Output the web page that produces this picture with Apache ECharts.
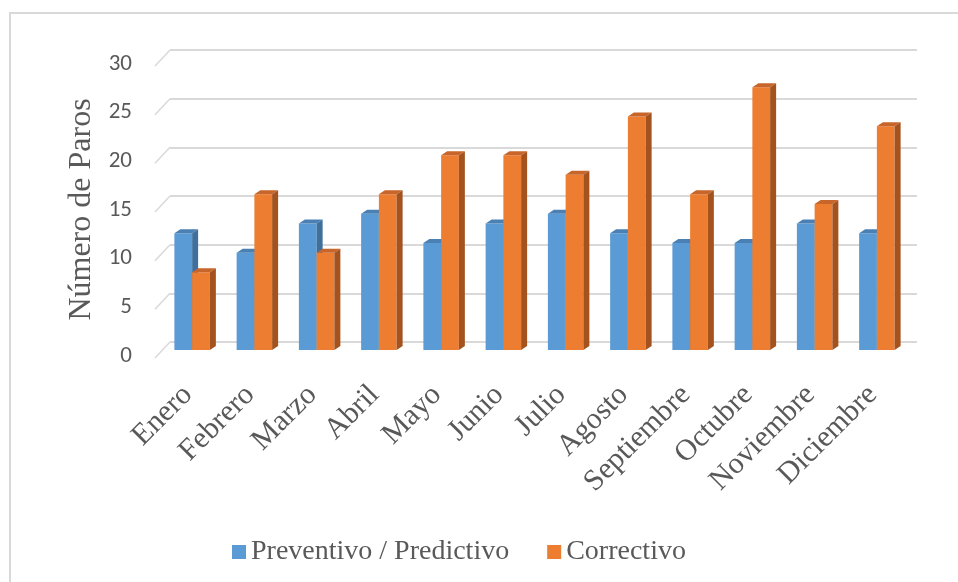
<!DOCTYPE html>
<html>
<head>
<meta charset="utf-8">
<script src="https://cdn.jsdelivr.net/npm/echarts@6/dist/echarts.min.js"></script>
<style>
  html, body { margin: 0; padding: 0; background: #ffffff; }
  #chart { width: 958px; height: 582px; }
</style>
</head>
<body>
<div id="chart"></div>
<script>
// Paros mensuales por tipo de mantenimiento
const months = ['Enero', 'Febrero', 'Marzo', 'Abril', 'Mayo', 'Junio', 'Julio',
  'Agosto', 'Septiembre', 'Octubre', 'Noviembre', 'Diciembre'];
const preventivo = [12, 10, 13, 14, 11, 13, 14, 12, 11, 11, 13, 12];
const correctivo = [8, 16, 10, 16, 20, 20, 18, 24, 16, 27, 15, 23];
const yTicks = [0, 5, 10, 15, 20, 25, 30];
const seriesNames = ['Preventivo / Predictivo', 'Correctivo'];

const palette = [
  { front: '#5b9bd5', top: '#4a80b3', side: '#3f6f9c' },
  { front: '#ed7d31', top: '#c8652a', side: '#a4531f' }
];
const DEPTH_X = 6, DEPTH_Y = 4;
const TEXT = '#595959';
const SERIF = 'Liberation Serif';
const SANS = 'Carlito';

// 3D-looking bar: front face, top face and right side face
function barRenderer(s) {
  return function (params, api) {
    const i = api.value(0), v = api.value(1);
    const base = api.coord([i, 0]);
    const top = api.coord([i, v]);
    const band = api.size([1, 0])[0];
    const w = band * 0.285;
    const x0 = base[0] - w + s * w;
    const x1 = x0 + w;
    const c = palette[s];
    return {
      type: 'group',
      children: [
        { type: 'rect', shape: { x: x0, y: top[1], width: w, height: base[1] - top[1] },
          style: { fill: c.front } },
        { type: 'polygon', shape: { points: [[x0, top[1]], [x1, top[1]],
            [x1 + DEPTH_X, top[1] - DEPTH_Y], [x0 + DEPTH_X, top[1] - DEPTH_Y]] },
          style: { fill: c.top } },
        { type: 'polygon', shape: { points: [[x1, top[1]], [x1 + DEPTH_X, top[1] - DEPTH_Y],
            [x1 + DEPTH_X, base[1] - DEPTH_Y], [x1, base[1]]] },
          style: { fill: c.side } }
      ]
    };
  };
}

// short slanted lines joining the value ticks to the back wall
function wallTickRenderer(params, api) {
  const p = api.coord([0, api.value(1)]);
  const left = p[0] - api.size([1, 0])[0] / 2;
  return {
    type: 'line',
    shape: { x1: left, y1: p[1], x2: left - 15, y2: p[1] + 16 },
    style: { stroke: '#d9d9d9', lineWidth: 1.5 }
  };
}

const yMin = yTicks[0], yMax = yTicks[yTicks.length - 1], yStep = yTicks[1] - yTicks[0];

const chart = echarts.init(document.getElementById('chart'));
chart.setOption({
  backgroundColor: '#ffffff',
  animation: false,
  textStyle: { fontFamily: SERIF },
  graphic: [{
    type: 'rect', z: -10, silent: true,
    shape: { x: 10, y: 13, width: 1000, height: 1000 },
    style: { fill: 'none', stroke: '#d9d9d9', lineWidth: 2 }
  }],
  grid: [
    { left: 161, right: 50, top: 58, bottom: 232 },   // front plane (bars)
    { left: 170, right: 41, top: 50, bottom: 240 }    // back wall (gridlines)
  ],
  xAxis: [
    { type: 'category', gridIndex: 0, data: months,
      axisLine: { show: false }, axisTick: { show: false },
      axisLabel: { rotate: 45, margin: 36, color: TEXT, fontFamily: SERIF, fontSize: 30, interval: 0,
        formatter: '{m|{value}}',
        rich: { m: { color: TEXT, fontFamily: SERIF, fontSize: 30, padding: [0, 6, 0, 0] } } } },
    { type: 'category', gridIndex: 1, data: months, show: false }
  ],
  yAxis: [
    { type: 'value', gridIndex: 0, min: yMin, max: yMax, interval: yStep,
      name: 'Número de Paros', nameLocation: 'middle', nameGap: 61,
      nameTextStyle: { color: TEXT, fontFamily: SERIF, fontSize: 32, padding: [0, 11, 0, 0] },
      axisLine: { show: false }, axisTick: { show: false }, splitLine: { show: false },
      axisLabel: { color: TEXT, fontFamily: SANS, fontSize: 23, margin: 29,
        formatter: '{v|{value}}',
        rich: { v: { color: TEXT, fontFamily: SANS, fontSize: 23, padding: [12, 0, 0, 0] } } } },
    { type: 'value', gridIndex: 1, min: yMin, max: yMax, interval: yStep,
      axisLine: { show: false }, axisTick: { show: false }, axisLabel: { show: false },
      splitLine: { lineStyle: { color: '#d9d9d9', width: 2 } } }
  ],
  legend: {
    data: seriesNames, bottom: 11, left: 227,
    icon: 'rect', itemWidth: 14, itemHeight: 14, itemGap: 38,
    textStyle: { color: TEXT, fontFamily: SERIF, fontSize: 28 }
  },
  series: [
    { type: 'custom', name: 'wall', xAxisIndex: 1, yAxisIndex: 1, silent: true,
      renderItem: wallTickRenderer, data: yTicks.map(v => [0, v]) },
    { type: 'custom', name: seriesNames[0], xAxisIndex: 0, yAxisIndex: 0,
      itemStyle: { color: palette[0].front }, renderItem: barRenderer(0),
      data: preventivo.map((v, i) => [i, v]) },
    { type: 'custom', name: seriesNames[1], xAxisIndex: 0, yAxisIndex: 0,
      itemStyle: { color: palette[1].front }, renderItem: barRenderer(1),
      data: correctivo.map((v, i) => [i, v]) }
  ]
});
</script>
</body>
</html>
